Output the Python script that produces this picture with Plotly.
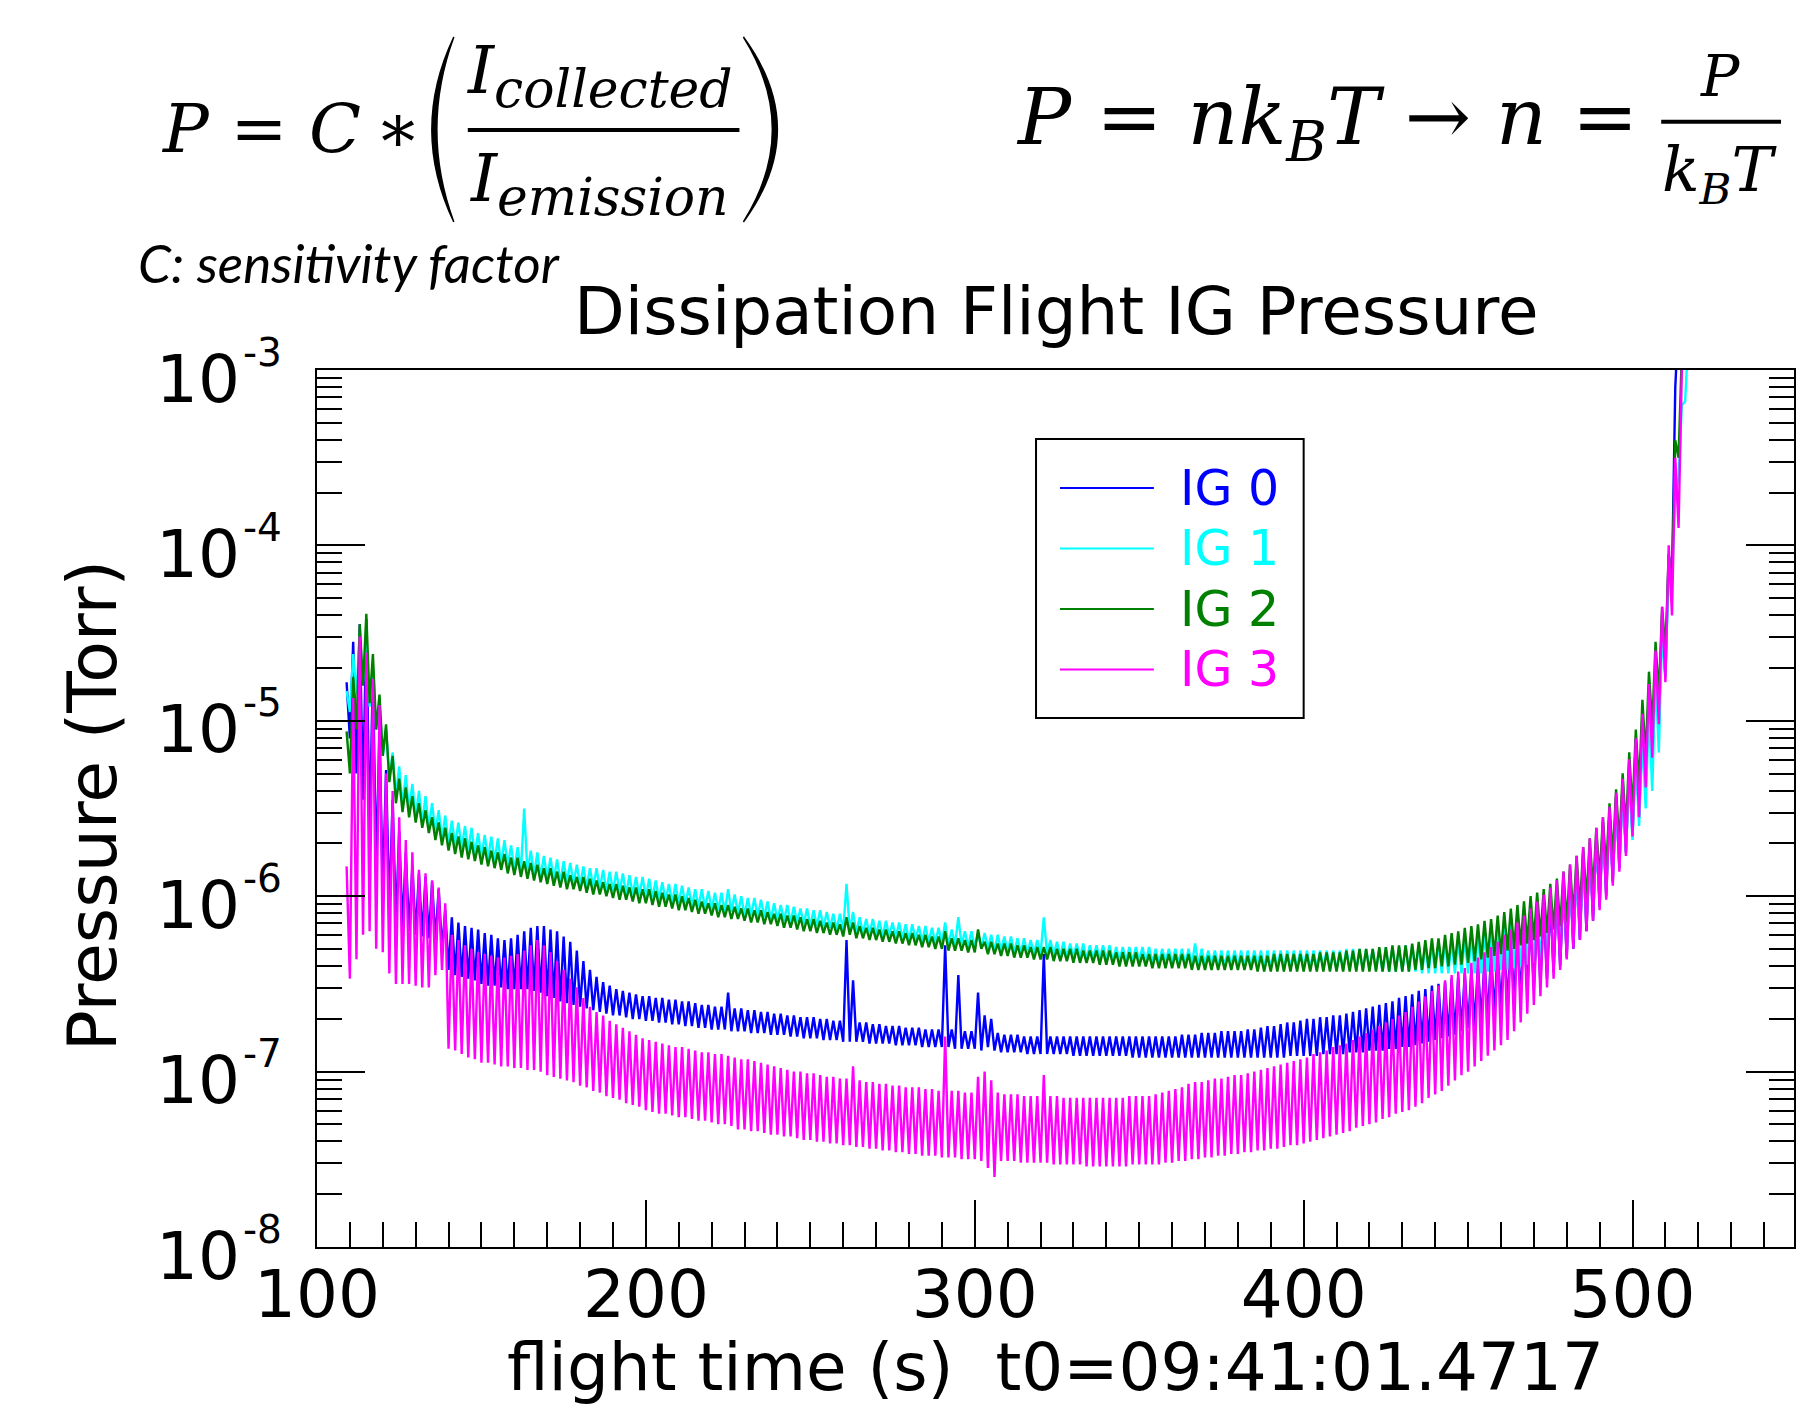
import numpy as np
import plotly.graph_objects as go

# ---------------------------------------------------------------- data
# Ion-gauge pressures, log10(Torr), sampled every 1 s starting at T_START
# (values alternate between spin-modulation maxima and minima).
T_START = 109
SERIES_NAMES = ["IG 0", "IG 1", "IG 2", "IG 3"]
SERIES_COLORS = ["#0000FF", "#00FFFF", "#008000", "#FF00FF"]

IG0_LOG10_TORR = [
    -4.78, -5.10, -4.55, -5.30, -4.45, -5.45, -4.42, -5.65, -4.72, -5.85,
    -5.05, -5.98, -5.28, -6.08, -5.45, -6.15, -5.63, -6.18, -5.75, -6.20,
    -5.83, -6.22, -5.87, -6.23, -5.89, -6.24, -5.92, -6.25, -5.96, -6.30,
    -6.08, -6.42, -6.12, -6.45, -6.15, -6.46, -6.17, -6.47, -6.18, -6.48,
    -6.19, -6.50, -6.21, -6.51, -6.22, -6.51, -6.24, -6.52, -6.25, -6.53,
    -6.24, -6.53, -6.22, -6.53, -6.20, -6.53, -6.18, -6.54, -6.17, -6.55,
    -6.17, -6.57, -6.19, -6.58, -6.20, -6.60, -6.23, -6.61, -6.26, -6.62,
    -6.31, -6.63, -6.37, -6.64, -6.42, -6.65, -6.46, -6.66, -6.49, -6.67,
    -6.51, -6.68,
    -6.53, -6.68, -6.54, -6.69, -6.55, -6.70, -6.56, -6.70, -6.57, -6.71,
    -6.57, -6.71, -6.58, -6.72, -6.58, -6.72, -6.59, -6.73, -6.59, -6.73,
    -6.60, -6.74, -6.60, -6.74, -6.61, -6.75, -6.62, -6.75, -6.62, -6.76,
    -6.63, -6.76, -6.63, -6.76, -6.55, -6.77, -6.64, -6.77, -6.64, -6.77,
    -6.65, -6.78, -6.65, -6.78, -6.66, -6.78, -6.66, -6.79, -6.67, -6.79,
    -6.67, -6.79, -6.68, -6.80, -6.68, -6.80, -6.69, -6.81, -6.69, -6.81,
    -6.69, -6.81, -6.70, -6.82, -6.70, -6.82, -6.71, -6.82, -6.71, -6.83,
    -6.25, -6.83, -6.48, -6.83, -6.72, -6.83, -6.72, -6.84, -6.73, -6.84,
    -6.73, -6.84, -6.74, -6.84, -6.74, -6.85, -6.74, -6.85, -6.75, -6.85,
    -6.75, -6.85, -6.75, -6.86, -6.76, -6.86, -6.76, -6.86, -6.76, -6.86,
    -6.28, -6.86, -6.76, -6.87, -6.45, -6.87, -6.77, -6.87, -6.77, -6.87,
    -6.55, -6.88, -6.68, -6.86, -6.70, -6.88, -6.78, -6.89, -6.79, -6.89,
    -6.79, -6.89, -6.79, -6.89, -6.80, -6.90, -6.80, -6.90, -6.80, -6.90,
    -6.33, -6.90, -6.80, -6.90, -6.80, -6.90, -6.80, -6.90, -6.80, -6.91,
    -6.80, -6.91, -6.80, -6.91, -6.80, -6.91, -6.80, -6.91, -6.80, -6.91,
    -6.80, -6.91, -6.80, -6.91, -6.80, -6.91, -6.80, -6.92, -6.80, -6.92,
    -6.80, -6.92, -6.80, -6.92, -6.80, -6.92, -6.80, -6.92, -6.80, -6.92,
    -6.80, -6.92, -6.79, -6.92, -6.79, -6.92, -6.79, -6.92, -6.78, -6.92,
    -6.78, -6.92, -6.78, -6.92, -6.77, -6.92, -6.77, -6.92, -6.77, -6.92,
    -6.77, -6.92, -6.76, -6.92, -6.76, -6.92, -6.75, -6.92, -6.74, -6.92,
    -6.74, -6.92, -6.73, -6.92, -6.72, -6.91, -6.72, -6.91, -6.71, -6.91,
    -6.70, -6.91, -6.70, -6.91, -6.69, -6.90, -6.69, -6.90, -6.68, -6.90,
    -6.68, -6.90, -6.67, -6.89, -6.66, -6.89, -6.65, -6.89, -6.64, -6.88,
    -6.63, -6.88, -6.62, -6.88, -6.61, -6.87, -6.60, -6.87, -6.58, -6.86,
    -6.57, -6.86, -6.56, -6.85, -6.54, -6.84, -6.53, -6.83, -6.51, -6.82,
    -6.50, -6.81, -6.49, -6.80, -6.47, -6.79, -6.46, -6.77, -6.44, -6.75,
    -6.42, -6.74, -6.39, -6.72, -6.36, -6.70, -6.33, -6.67, -6.30, -6.64,
    -6.27, -6.62, -6.24, -6.60, -6.21, -6.58, -6.17, -6.55, -6.14, -6.52,
    -6.11, -6.50, -6.07, -6.47, -6.03, -6.43, -5.98, -6.40, -5.94, -6.35,
    -5.87, -6.30, -5.82, -6.25, -5.75, -6.20, -5.72, -6.14, -5.66, -6.06,
    -5.58, -6.00, -5.51, -5.92, -5.43, -5.84, -5.35, -5.75, -5.25, -5.66,
    -5.10, -5.55, -4.97, -5.35, -4.82, -5.20, -4.65, -5.02, -4.40, -4.75,
    -4.05, -4.20, -3.10, -2.70,
]

IG1_LOG10_TORR = [
    -4.83, -4.95, -4.62, -4.85, -4.50, -4.78, -4.55, -4.92, -4.70, -5.05,
    -4.90, -5.20, -5.05, -5.33, -5.18, -5.43, -5.26, -5.48, -5.31, -5.51,
    -5.36, -5.55, -5.40, -5.58, -5.43, -5.61, -5.47, -5.64, -5.51, -5.67,
    -5.54, -5.70, -5.57, -5.71, -5.58, -5.73, -5.60, -5.74, -5.61, -5.76,
    -5.64, -5.78, -5.65, -5.79, -5.66, -5.80, -5.67, -5.82, -5.68, -5.83,
    -5.71, -5.85, -5.72, -5.86, -5.50, -5.87, -5.74, -5.88, -5.75, -5.89,
    -5.77, -5.90, -5.78, -5.91, -5.79, -5.92, -5.80, -5.92, -5.81, -5.93,
    -5.82, -5.94, -5.83, -5.95, -5.84, -5.95, -5.84, -5.96, -5.85, -5.97,
    -5.86, -5.97, -5.86, -5.98, -5.87, -5.99, -5.88, -5.99, -5.89, -6.00,
    -5.89, -6.01, -5.90, -6.01, -5.91, -6.02, -5.92, -6.03, -5.93, -6.04,
    -5.93, -6.04, -5.94, -6.05, -5.95, -6.06, -5.96, -6.06, -5.96, -6.07,
    -5.97, -6.08, -5.98, -6.08, -5.98, -6.09, -5.96, -6.09, -5.99, -6.10,
    -6.00, -6.11, -6.01, -6.11, -6.01, -6.12, -6.02, -6.12, -6.03, -6.13,
    -6.04, -6.14, -6.05, -6.14, -6.05, -6.15, -6.06, -6.15, -6.07, -6.16,
    -6.07, -6.17, -6.08, -6.17, -6.08, -6.18, -6.09, -6.18, -6.10, -6.19,
    -6.10, -6.20, -5.93, -6.20, -6.09, -6.21, -6.12, -6.21, -6.13, -6.22,
    -6.13, -6.22, -6.14, -6.23, -6.14, -6.23, -6.15, -6.24, -6.15, -6.24,
    -6.16, -6.25, -6.16, -6.25, -6.17, -6.26, -6.17, -6.26, -6.18, -6.27,
    -6.18, -6.27, -6.15, -6.28, -6.19, -6.28, -6.12, -6.28, -6.20, -6.29,
    -6.20, -6.29, -6.21, -6.30, -6.21, -6.30, -6.22, -6.31, -6.22, -6.31,
    -6.23, -6.32, -6.23, -6.32, -6.24, -6.32, -6.24, -6.33, -6.25, -6.33,
    -6.25, -6.33, -6.12, -6.33, -6.25, -6.34, -6.26, -6.34, -6.26, -6.35,
    -6.27, -6.35, -6.27, -6.35, -6.27, -6.36, -6.28, -6.36, -6.28, -6.36,
    -6.28, -6.36, -6.28, -6.37, -6.29, -6.37, -6.29, -6.37, -6.29, -6.37,
    -6.29, -6.37, -6.29, -6.38, -6.29, -6.38, -6.30, -6.38, -6.30, -6.38,
    -6.30, -6.38, -6.30, -6.38, -6.30, -6.39, -6.30, -6.39, -6.27, -6.39,
    -6.30, -6.39, -6.31, -6.39, -6.31, -6.40, -6.31, -6.40, -6.31, -6.40,
    -6.31, -6.40, -6.31, -6.40, -6.31, -6.40, -6.31, -6.40, -6.31, -6.41,
    -6.31, -6.41, -6.31, -6.41, -6.31, -6.41, -6.31, -6.41, -6.31, -6.41,
    -6.31, -6.41, -6.31, -6.41, -6.31, -6.41, -6.31, -6.41, -6.31, -6.42,
    -6.31, -6.42, -6.31, -6.42, -6.30, -6.42, -6.30, -6.42, -6.30, -6.42,
    -6.30, -6.42, -6.30, -6.42, -6.30, -6.43, -6.29, -6.43, -6.29, -6.43,
    -6.29, -6.43, -6.28, -6.43, -6.28, -6.43, -6.28, -6.44, -6.27, -6.44,
    -6.27, -6.44, -6.26, -6.44, -6.26, -6.44, -6.25, -6.44, -6.25, -6.44,
    -6.24, -6.44, -6.23, -6.44, -6.22, -6.44, -6.21, -6.43, -6.20, -6.43,
    -6.19, -6.42, -6.17, -6.42, -6.16, -6.41, -6.14, -6.40, -6.12, -6.39,
    -6.10, -6.38, -6.07, -6.37, -6.05, -6.35, -6.02, -6.34, -5.99, -6.32,
    -5.96, -6.30, -5.92, -6.25, -5.87, -6.20, -5.82, -6.14, -5.76, -6.07,
    -5.70, -6.01, -5.64, -5.95, -5.57, -5.88, -5.50, -5.82, -5.42, -5.75,
    -5.33, -5.68, -5.22, -5.60, -5.10, -5.50, -4.95, -5.40, -4.75, -5.18,
    -4.50, -4.75, -4.15, -4.20, -3.70, -3.62, -3.20, -3.18, -2.80, -2.85,
    -2.70,
]

IG2_LOG10_TORR = [
    -5.06, -5.30, -4.75, -5.05, -4.45, -4.80, -4.39, -4.90, -4.62, -5.05,
    -4.85, -5.20, -5.02, -5.35, -5.20, -5.47, -5.33, -5.52, -5.38, -5.55,
    -5.43, -5.58, -5.47, -5.61, -5.51, -5.64, -5.55, -5.68, -5.58, -5.71,
    -5.61, -5.74, -5.64, -5.76, -5.66, -5.78, -5.67, -5.79, -5.69, -5.80,
    -5.71, -5.82, -5.72, -5.83, -5.74, -5.84, -5.75, -5.85, -5.76, -5.87,
    -5.78, -5.88, -5.78, -5.89, -5.80, -5.90, -5.81, -5.91, -5.82, -5.92,
    -5.84, -5.93, -5.84, -5.94, -5.86, -5.95, -5.86, -5.96, -5.88, -5.96,
    -5.89, -5.97, -5.89, -5.98, -5.90, -5.99, -5.91, -5.99, -5.92, -6.00,
    -5.93, -6.01, -5.93, -6.02, -5.94, -6.02, -5.95, -6.03, -5.95, -6.04,
    -5.96, -6.04, -5.96, -6.05, -5.97, -6.06, -5.98, -6.06, -5.99, -6.07,
    -5.99, -6.08, -6.00, -6.08, -6.01, -6.09, -6.02, -6.10, -6.03, -6.10,
    -6.04, -6.11, -6.04, -6.12, -6.05, -6.12, -6.05, -6.13, -6.06, -6.13,
    -6.07, -6.14, -6.07, -6.15, -6.08, -6.15, -6.08, -6.16, -6.09, -6.16,
    -6.10, -6.17, -6.10, -6.18, -6.11, -6.18, -6.11, -6.19, -6.12, -6.20,
    -6.13, -6.20, -6.13, -6.21, -6.14, -6.21, -6.15, -6.22, -6.15, -6.22,
    -6.16, -6.23, -6.12, -6.22, -6.15, -6.24, -6.17, -6.24, -6.18, -6.25,
    -6.18, -6.25, -6.19, -6.26, -6.19, -6.26, -6.20, -6.27, -6.20, -6.27,
    -6.21, -6.28, -6.21, -6.28, -6.22, -6.29, -6.22, -6.29, -6.23, -6.30,
    -6.23, -6.30, -6.20, -6.31, -6.24, -6.31, -6.24, -6.31, -6.25, -6.32,
    -6.25, -6.32, -6.19, -6.30, -6.26, -6.33, -6.26, -6.33, -6.27, -6.34,
    -6.27, -6.34, -6.27, -6.35, -6.28, -6.35, -6.28, -6.35, -6.29, -6.36,
    -6.29, -6.36, -6.29, -6.36, -6.29, -6.37, -6.30, -6.37, -6.30, -6.37,
    -6.30, -6.38, -6.30, -6.38, -6.31, -6.38, -6.31, -6.38, -6.31, -6.39,
    -6.31, -6.39, -6.31, -6.39, -6.32, -6.40, -6.32, -6.40, -6.32, -6.40,
    -6.32, -6.40, -6.33, -6.40, -6.33, -6.41, -6.33, -6.41, -6.33, -6.41,
    -6.33, -6.41, -6.33, -6.41, -6.33, -6.41, -6.33, -6.42, -6.34, -6.42,
    -6.34, -6.42, -6.34, -6.42, -6.34, -6.42, -6.34, -6.42, -6.34, -6.42,
    -6.34, -6.42, -6.34, -6.42, -6.34, -6.42, -6.34, -6.43, -6.34, -6.43,
    -6.34, -6.43, -6.33, -6.43, -6.33, -6.43, -6.33, -6.43, -6.33, -6.43,
    -6.33, -6.43, -6.33, -6.43, -6.33, -6.43, -6.32, -6.43, -6.32, -6.43,
    -6.32, -6.43, -6.32, -6.43, -6.31, -6.43, -6.31, -6.43, -6.30, -6.43,
    -6.30, -6.43, -6.30, -6.43, -6.29, -6.43, -6.29, -6.43, -6.28, -6.43,
    -6.28, -6.43, -6.28, -6.43, -6.27, -6.42, -6.26, -6.42, -6.25, -6.41,
    -6.24, -6.41, -6.24, -6.40, -6.22, -6.40, -6.21, -6.39, -6.20, -6.39,
    -6.18, -6.38, -6.17, -6.37, -6.16, -6.36, -6.14, -6.35, -6.13, -6.34,
    -6.11, -6.33, -6.09, -6.31, -6.07, -6.30, -6.05, -6.28, -6.03, -6.27,
    -6.00, -6.25, -5.98, -6.23, -5.96, -6.21, -5.93, -6.19, -5.90, -6.17,
    -5.86, -6.15, -5.82, -6.11, -5.77, -6.07, -5.72, -6.02, -5.67, -5.96,
    -5.61, -5.90, -5.55, -5.84, -5.47, -5.78, -5.39, -5.70, -5.30, -5.62,
    -5.18, -5.51, -5.05, -5.37, -4.88, -5.20, -4.72, -5.03, -4.55, -4.85,
    -4.35, -4.60, -4.05, -4.20, -3.40, -3.50, -2.90, -2.70,
]

IG3_LOG10_TORR = [
    -5.83, -6.47, -4.87, -6.36, -4.52, -6.22, -4.61, -6.20, -4.76, -6.30,
    -4.91, -6.32, -5.30, -6.44, -5.40, -6.50, -5.55, -6.50, -5.68, -6.50,
    -5.75, -6.51, -5.85, -6.52, -5.87, -6.52, -5.91, -6.45, -5.95, -6.42,
    -6.04, -6.87, -6.22, -6.88, -6.25, -6.90, -6.28, -6.92, -6.30, -6.93,
    -6.32, -6.95, -6.33, -6.95, -6.34, -6.96, -6.35, -6.97, -6.35, -6.97,
    -6.34, -6.98, -6.33, -6.98, -6.31, -6.99, -6.28, -6.99, -6.25, -7.00,
    -6.28, -7.02, -6.32, -7.03, -6.37, -7.04, -6.42, -7.05, -6.47, -7.06,
    -6.52, -7.08, -6.58, -7.09, -6.63, -7.11, -6.66, -7.12, -6.68, -7.14,
    -6.71, -7.15,
    -6.73, -7.16, -6.75, -7.18, -6.77, -7.19, -6.79, -7.20, -6.81, -7.22,
    -6.82, -7.23, -6.83, -7.24, -6.84, -7.24, -6.85, -7.25, -6.86, -7.26,
    -6.86, -7.26, -6.87, -7.27, -6.88, -7.28, -6.89, -7.28, -6.89, -7.29,
    -6.90, -7.30, -6.90, -7.30, -6.91, -7.31, -6.92, -7.33, -6.93, -7.33,
    -6.93, -7.34, -6.94, -7.34, -6.95, -7.35, -6.96, -7.36, -6.97, -7.36,
    -6.98, -7.37, -6.99, -7.37, -7.00, -7.38, -7.00, -7.39, -7.01, -7.39,
    -7.01, -7.40, -7.02, -7.40, -7.03, -7.41, -7.03, -7.41, -7.04, -7.42,
    -7.04, -7.42, -6.97, -7.43, -7.05, -7.43, -7.06, -7.44, -7.06, -7.44,
    -7.07, -7.45, -7.07, -7.45, -7.08, -7.46, -7.08, -7.46, -7.09, -7.47,
    -7.09, -7.47, -7.09, -7.48, -7.10, -7.48, -7.10, -7.48, -7.11, -7.49,
    -6.80, -7.49, -7.11, -7.49, -7.11, -7.50, -7.12, -7.50, -7.12, -7.50,
    -7.03, -7.51, -7.00, -7.55, -7.05, -7.60, -7.12, -7.51, -7.13, -7.51,
    -7.13, -7.51, -7.13, -7.52, -7.14, -7.52, -7.14, -7.52, -7.14, -7.52,
    -7.02, -7.52, -7.14, -7.53, -7.14, -7.53, -7.15, -7.53, -7.15, -7.53,
    -7.15, -7.53, -7.15, -7.54, -7.15, -7.54, -7.15, -7.54, -7.15, -7.54,
    -7.15, -7.54, -7.15, -7.54, -7.15, -7.54, -7.14, -7.53, -7.14, -7.53,
    -7.14, -7.53, -7.14, -7.53, -7.13, -7.53, -7.12, -7.52, -7.11, -7.52,
    -7.10, -7.51, -7.09, -7.51, -7.07, -7.50, -7.06, -7.50, -7.06, -7.49,
    -7.05, -7.49, -7.04, -7.48, -7.04, -7.48, -7.03, -7.47, -7.02, -7.47,
    -7.02, -7.46, -7.01, -7.46, -7.00, -7.45, -6.99, -7.45, -6.98, -7.44,
    -6.97, -7.44, -6.96, -7.43, -6.95, -7.42, -6.94, -7.42, -6.93, -7.41,
    -6.92, -7.40, -6.90, -7.39, -6.89, -7.38, -6.88, -7.37, -6.86, -7.36,
    -6.85, -7.35, -6.84, -7.34, -6.82, -7.32, -6.80, -7.31, -6.78, -7.30,
    -6.76, -7.29, -6.74, -7.27, -6.72, -7.26, -6.70, -7.24, -6.68, -7.23,
    -6.66, -7.22, -6.63, -7.20, -6.60, -7.18, -6.57, -7.15, -6.54, -7.13,
    -6.51, -7.11, -6.48, -7.08, -6.45, -7.05, -6.43, -7.02, -6.41, -7.00,
    -6.38, -6.97, -6.35, -6.94, -6.32, -6.91, -6.29, -6.88, -6.26, -6.85,
    -6.22, -6.82, -6.19, -6.77, -6.15, -6.72, -6.11, -6.67, -6.07, -6.62,
    -6.03, -6.57, -5.99, -6.52, -5.95, -6.47, -5.91, -6.42, -5.86, -6.36,
    -5.82, -6.30, -5.77, -6.25, -5.72, -6.20, -5.67, -6.14, -5.61, -6.08,
    -5.55, -6.02, -5.49, -5.94, -5.41, -5.86, -5.33, -5.77, -5.22, -5.66,
    -5.10, -5.55, -4.96, -5.38, -4.79, -5.21, -4.60, -5.02, -4.35, -4.78,
    -4.00, -4.40, -3.50, -3.90, -3.00, -2.70,
]

SERIES_VALUES = [IG0_LOG10_TORR, IG1_LOG10_TORR, IG2_LOG10_TORR, IG3_LOG10_TORR]

X_TICKS = [100, 200, 300, 400, 500]
Y_TICK_EXPONENTS = [-8, -7, -6, -5, -4, -3]

TITLE = "Dissipation Flight IG Pressure"
X_TITLE = "flight time (s)\u00a0\u00a0t0=09:41:01.4717"
Y_TITLE = "Pressure (Torr)"

# ---------------------------------------------------------------- layout
W, H = 1796, 1405
ML, MT, MB = 317, 370, 158
PW, PH = W - ML, H - MT - MB


def px(x):
    return (x - ML) / PW


def py(y):
    return (H - MB - y) / PH


fig = go.Figure()
for name, color, vals in zip(SERIES_NAMES, SERIES_COLORS, SERIES_VALUES):
    t = T_START + np.arange(len(vals))
    fig.add_trace(go.Scatter(
        x=t, y=np.power(10.0, np.array(vals)), mode="lines", name=name,
        line=dict(color=color, width=2.4), showlegend=False, hoverinfo="skip"))

SANS = "DejaVu Sans"
SERIF = "DejaVu Serif"

y_minor = [k * 10.0 ** e for e in range(-8, -3) for k in range(2, 10)]

fig.update_layout(
    width=W, height=H,
    margin=dict(l=ML, r=0, t=MT, b=MB, pad=0),
    paper_bgcolor="white", plot_bgcolor="white",
    showlegend=False,
    font=dict(family=SANS, color="black"),
    xaxis=dict(
        range=[100, 549.1], showline=True, linecolor="black", linewidth=2,
        mirror=True, ticks="inside", ticklen=47, tickwidth=2, tickcolor="black",
        tickmode="array", tickvals=X_TICKS, ticktext=[str(v) for v in X_TICKS],
        tickfont=dict(family=SANS, size=66, color="black"),
        minor=dict(ticks="inside", ticklen=25, tickwidth=2, tickcolor="black",
                   tickmode="linear", tick0=100, dtick=10, showgrid=False),
        showgrid=False, zeroline=False, ticklabelstandoff=-11),
    yaxis=dict(
        type="log", range=[-8, -3], showline=True, linecolor="black", linewidth=2,
        mirror="ticks", ticks="inside", ticklen=48, tickwidth=2, tickcolor="black",
        tickmode="array", tickvals=[10.0 ** e for e in Y_TICK_EXPONENTS],
        showticklabels=False,
        minor=dict(ticks="inside", ticklen=25, tickwidth=2, tickcolor="black",
                   tickmode="array", tickvals=y_minor, showgrid=False),
        showgrid=False, zeroline=False),
)

ann = []
shapes = []


def text(t, x, y, size, family=SANS, color="black", xanchor="center",
         yanchor="middle", angle=0):
    ann.append(dict(text=t, x=px(x), y=py(y), xref="paper", yref="paper",
                    xanchor=xanchor, yanchor=yanchor, showarrow=False,
                    textangle=angle, borderpad=0,
                    font=dict(family=family, size=size, color=color)))


# y tick labels 10^e, placed on the log axis at each decade
for e in Y_TICK_EXPONENTS:
    ann.append(dict(text="10", x=px(241), y=e, xref="paper", yref="y",
                    xanchor="right", yanchor="middle", yshift=-9, showarrow=False,
                    borderpad=0, font=dict(family=SANS, size=66, color="black")))
    ann.append(dict(text="%d" % e, x=px(242), y=e, xref="paper", yref="y",
                    xanchor="left", yanchor="middle", yshift=18, showarrow=False,
                    borderpad=0, font=dict(family=SANS, size=39, color="black")))

# titles
text(TITLE, 1058, 312, 66)
text(X_TITLE, 1057, 1367, 66)
text(Y_TITLE, 92, 806, 68, angle=-90)

# legend (boxed, coloured labels)
shapes.append(dict(type="rect", xref="paper", yref="paper",
                   x0=px(1037), x1=px(1305), y0=py(439), y1=py(718),
                   line=dict(color="black", width=2), fillcolor="white", layer="above"))
for i, (name, color) in enumerate(zip(SERIES_NAMES, SERIES_COLORS)):
    yy = 488 + 60.5 * i
    shapes.append(dict(type="line", xref="paper", yref="paper",
                       x0=px(1061), x1=px(1155), y0=py(yy), y1=py(yy),
                       line=dict(color=color, width=2)))
    text(name, 1180, yy, 49, color=color, xanchor="left")

# equation 1: P = C * (I_collected / I_emission)
SUBSTYLE = "<sub><span style='font-size:52px'><i>%s</i></span></sub>"
text("<i>P</i> = <i>C</i>", 160, 128, 68, family=SERIF, xanchor="left")
text("\u2217", 374, 128, 68, family=SERIF, xanchor="left")
text("<i>I</i>" + SUBSTYLE % "collected", 466, 76, 66, family=SERIF, xanchor="left")
shapes.append(dict(type="line", xref="paper", yref="paper",
                   x0=px(468), x1=px(740), y0=py(130), y1=py(130),
                   line=dict(color="black", width=4)))
text("<i>I</i>" + SUBSTYLE % "emission", 469, 184, 66, family=SERIF, xanchor="left")


def paren(x_tip, x_out, x_in, y0, y1):
    ym = (y0 + y1) / 2
    cx_o = 2 * x_out - x_tip
    cx_i = 2 * x_in - x_tip
    p = "M {a},{b} Q {c},{d} {a},{e} Q {f},{d} {a},{b} Z".format(
        a=px(x_tip), b=py(y0), c=px(cx_o), d=py(ym), e=py(y1), f=px(cx_i))
    shapes.append(dict(type="path", xref="paper", yref="paper", path=p,
                       fillcolor="black", line=dict(color="black", width=1.5)))


paren(454, 432, 437, 37, 222)
paren(744, 778, 773, 37, 222)

text("<i>C: sensitivity factor</i>", 137, 263, 53, family="Lato", xanchor="left")

# equation 2: P = n k_B T -> n = P / (k_B T)
text("<i>P</i> = <i>nk</i><sub><i>B</i></sub><i>T</i> \u2192 <i>n</i> =", 1016, 122, 79,
     family=SERIF, xanchor="left")
text("<i>P</i>", 1722, 76, 57, family=SERIF)
shapes.append(dict(type="line", xref="paper", yref="paper",
                   x0=px(1663), x1=px(1783), y0=py(121.7), y1=py(121.7),
                   line=dict(color="black", width=4)))
text("<i>k</i><sub><i>B</i></sub><i>T</i>", 1721, 174, 62, family=SERIF)

fig.update_layout(annotations=ann, shapes=shapes)
fig.write_html("out.html")
